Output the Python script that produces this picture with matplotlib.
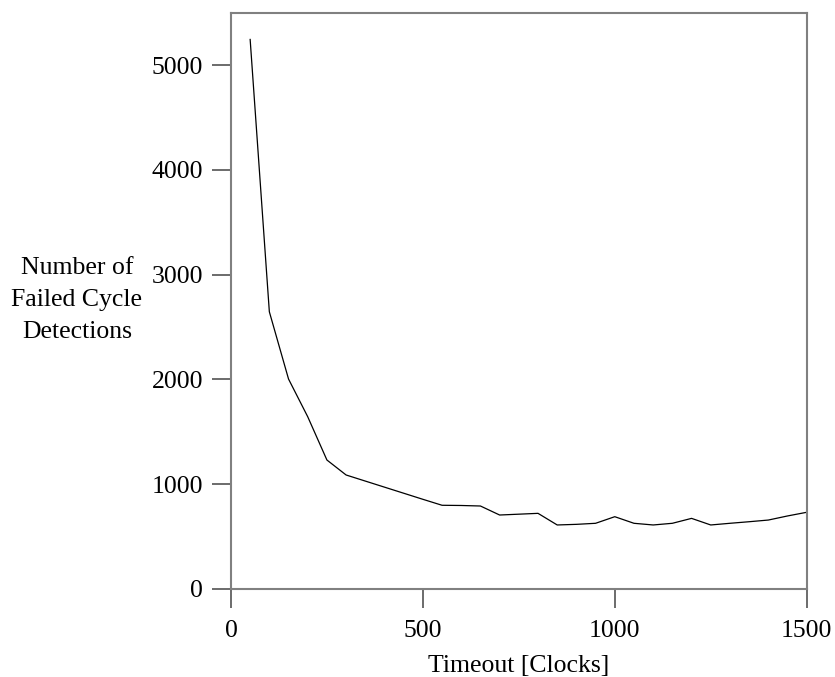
import numpy as np
import matplotlib
matplotlib.use('Agg')
import matplotlib.pyplot as plt

# timeout in clocks vs. number of failed cycle detections
timeout = [50, 100, 150, 200, 250, 300, 350, 400, 450, 500,
           550, 600, 650, 700, 750, 800, 850, 900, 950, 1000,
           1050, 1100, 1150, 1200, 1250, 1300, 1350, 1400, 1450, 1500]
failed = [5245, 2646, 2004, 1644, 1231, 1088, 1030, 972, 914, 856,
          799, 797, 792, 706, 714, 722, 611, 617, 627, 690,
          627, 611, 627, 674, 611, 627, 642, 658, 697, 732]

plt.rcParams['font.family'] = ['Liberation Serif', 'DejaVu Serif']
plt.rcParams['font.size'] = 18.5

fig = plt.figure(figsize=(8.35, 6.77), dpi=100)
ax = fig.add_axes([0.2766, 0.13, 0.9661 - 0.2766, 0.9812 - 0.13])

ax.plot(timeout, failed, color='black', linewidth=0.9)

ax.set_xlim(0, 1500)
ax.set_ylim(0, 5500)
ax.set_xticks([0, 500, 1000, 1500])
ax.set_yticks([0, 1000, 2000, 3000, 4000, 5000])

for s in ax.spines.values():
    s.set_color('#808080')
    s.set_linewidth(1.5)
ax.tick_params(axis='both', length=13.5, width=1.3, color='#606060', pad=6.5)
ax.tick_params(axis='x', pad=9)

ax.set_xlabel('Timeout [Clocks]', labelpad=9)
fig.text(0.092, 0.557, 'Number of\nFailed Cycle\nDetections', ha='center', va='center',
         linespacing=1.57, fontsize=18.5)

fig.savefig('out.png', dpi=100)
